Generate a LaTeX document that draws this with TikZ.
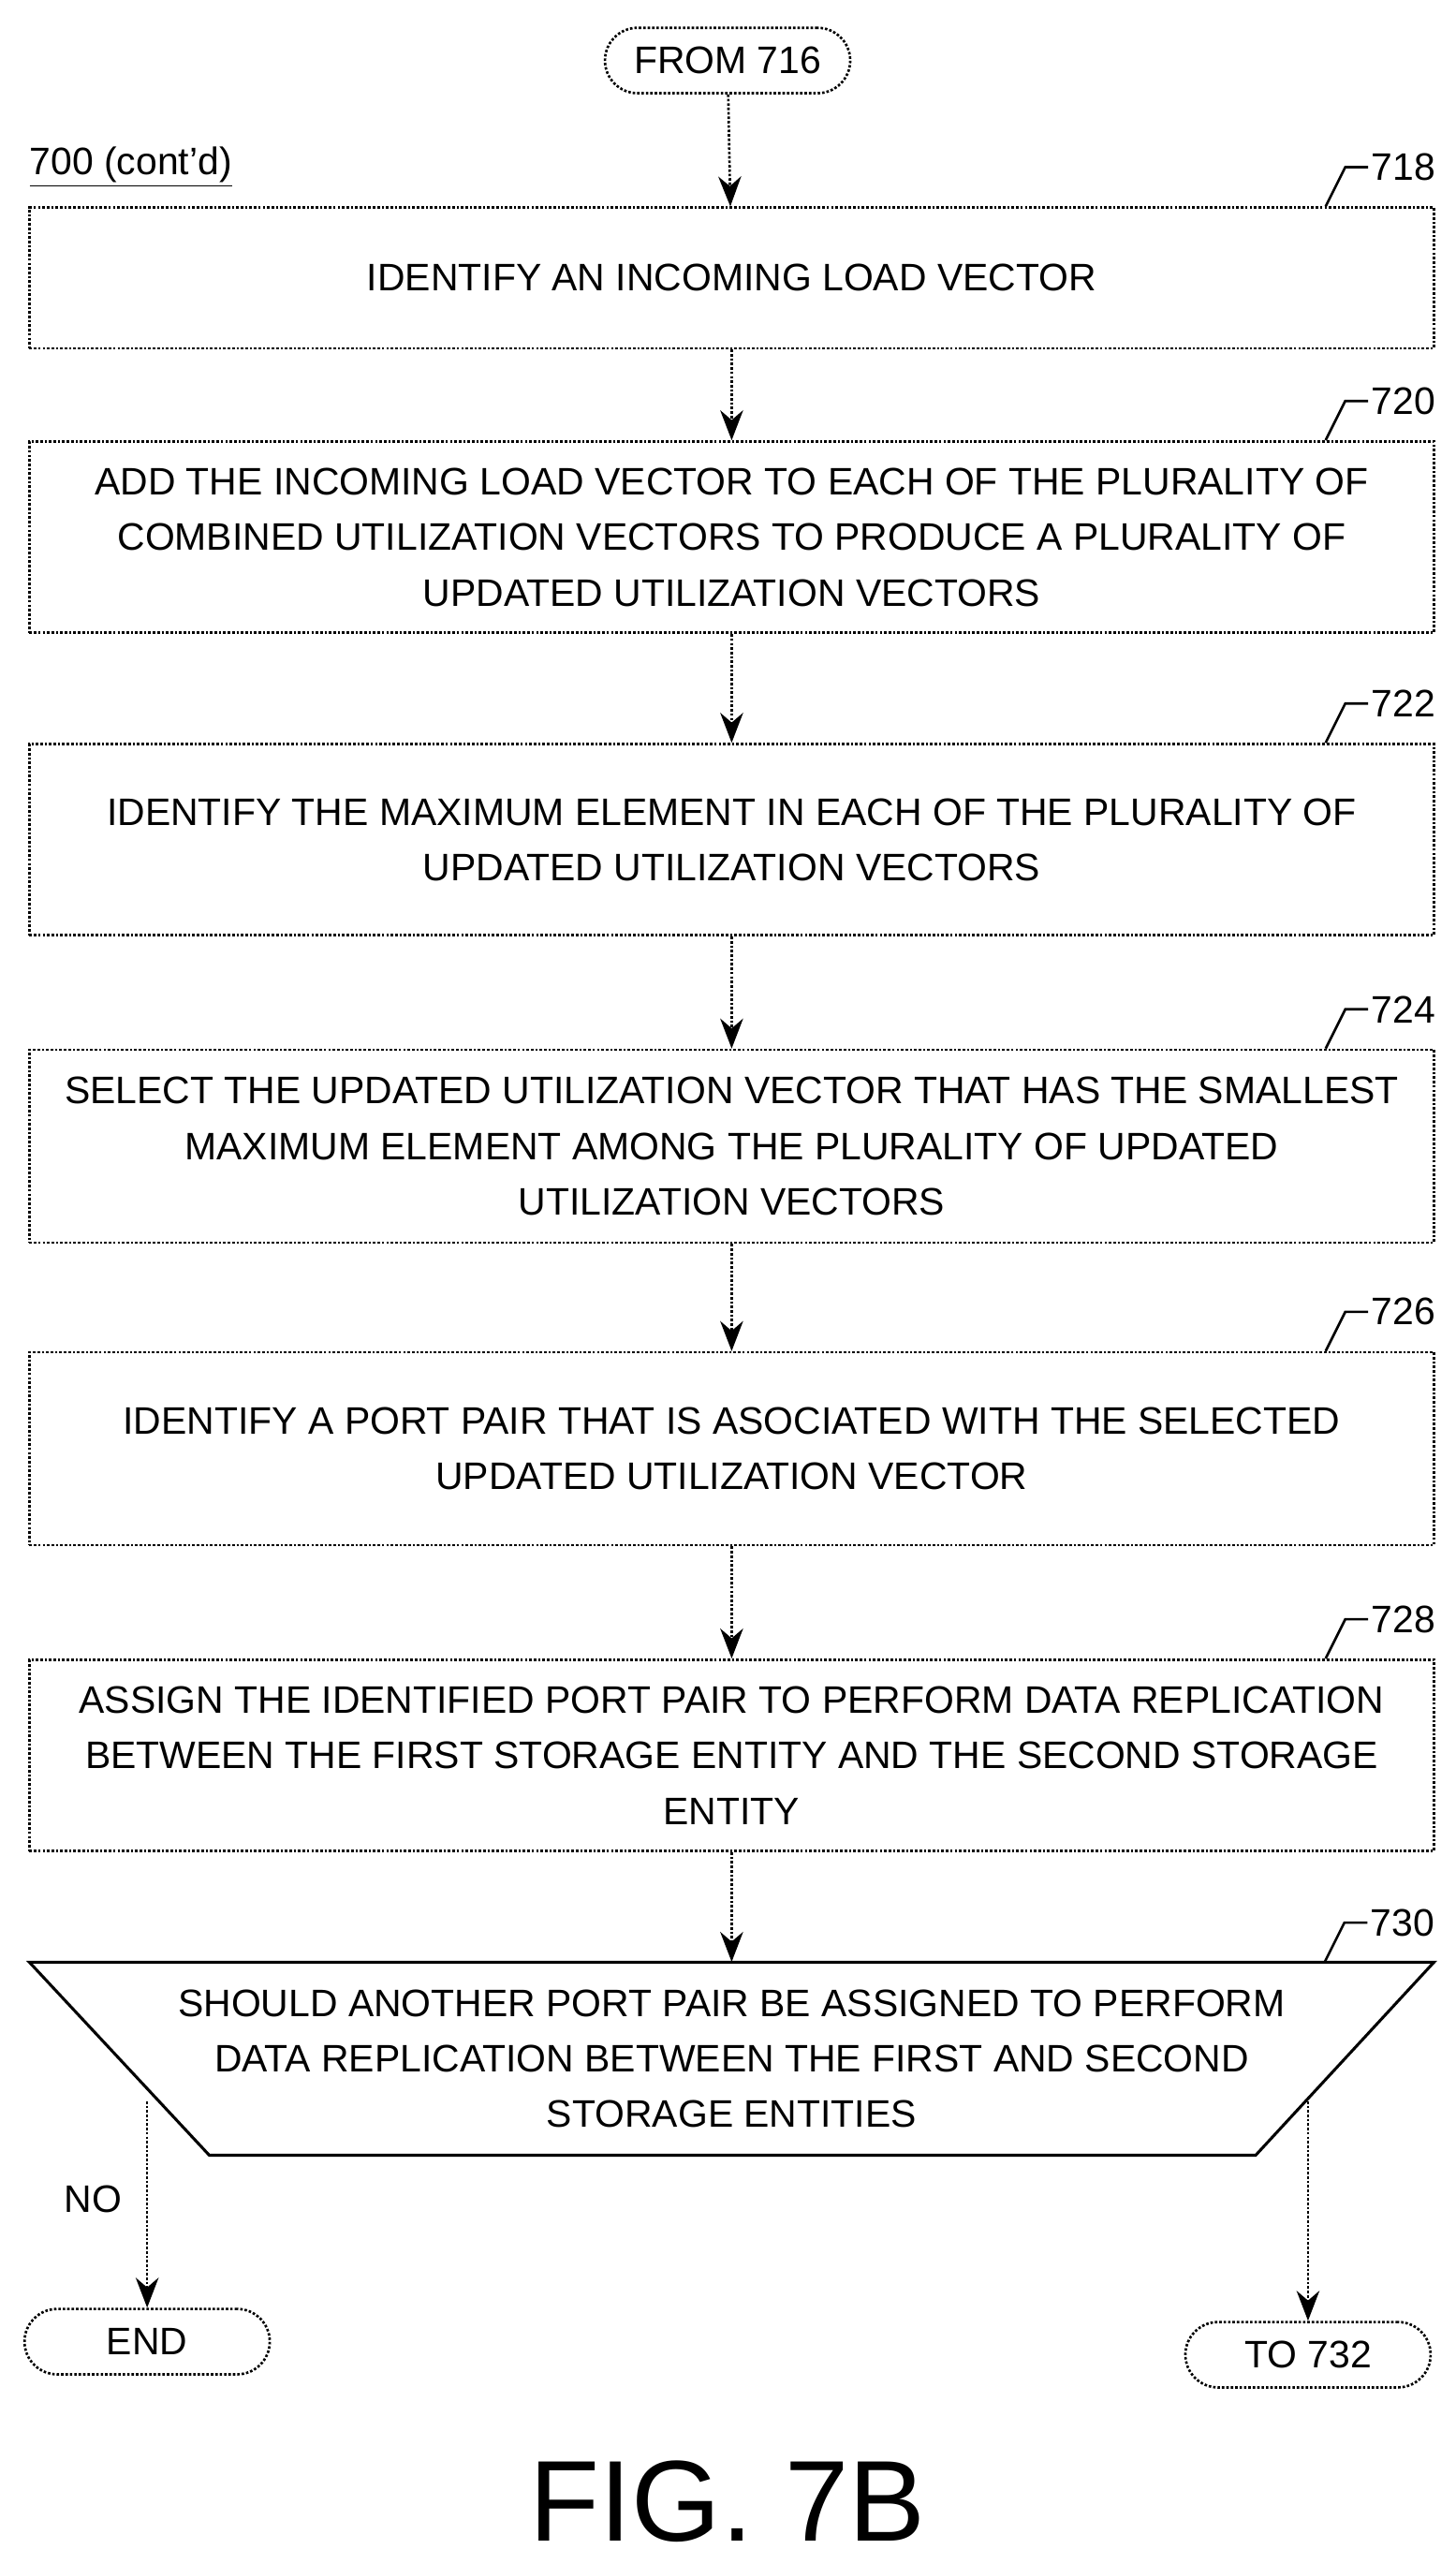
\documentclass[tikz,border=0pt]{standalone}
\usepackage{fontspec}
\setmainfont{Liberation Sans}
\usetikzlibrary{arrows.meta,shapes.geometric}
\tikzstyle{stepbox}=[draw=black, densely dotted, line width=1.3pt, minimum width=25.77cm, align=center, font=\fontsize{20}{29}\selectfont]
\tikzstyle{terminal}=[draw=black, densely dotted, line width=1.3pt, rounded corners=0.6cm, minimum width=4.5cm, minimum height=1.2cm, font=\fontsize{20}{24}\selectfont]
\tikzstyle{flow}=[draw=black, densely dotted, line width=1.3pt, -{Stealth[length=0.55cm,width=0.42cm]}]
\tikzstyle{tag}=[font=\fontsize{20}{24}\selectfont, anchor=west, inner sep=1pt]
\newcommand{\steplabel}[2]{%
  \draw[line width=1.3pt] (#1.north east) ++(-67,0) -- ++(12,-24) -- ++(14,0) node[tag] {#2};}

\begin{document}
\begin{tikzpicture}[x=0.03cm, y=-0.03cm]
    \useasboundingbox (0,0) rectangle (890,1568);

    \node (start) at (445,37) [terminal] {FROM 716};
    \node at (80,102) [font=\fontsize{20}{24}\selectfont] {\underline{700 (cont'd)}};

    \node (s718) at (447.5,170) [stepbox, minimum height=2.58cm] {IDENTIFY AN INCOMING LOAD VECTOR};
    \node (s720) at (447.5,328.5) [stepbox, minimum height=3.51cm] {ADD THE INCOMING LOAD VECTOR TO EACH OF THE PLURALITY OF\\COMBINED UTILIZATION VECTORS TO PRODUCE A PLURALITY OF\\UPDATED UTILIZATION VECTORS};
    \node (s722) at (447.5,513.5) [stepbox, minimum height=3.51cm] {IDENTIFY THE MAXIMUM ELEMENT IN EACH OF THE PLURALITY OF\\UPDATED UTILIZATION VECTORS};
    \node (s724) at (447.5,701) [stepbox, minimum height=3.54cm] {SELECT THE UPDATED UTILIZATION VECTOR THAT HAS THE SMALLEST\\MAXIMUM ELEMENT AMONG THE PLURALITY OF UPDATED\\UTILIZATION VECTORS};
    \node (s726) at (447.5,886) [stepbox, minimum height=3.54cm] {IDENTIFY A PORT PAIR THAT IS ASOCIATED WITH THE SELECTED\\UPDATED UTILIZATION VECTOR};
    \node (s728) at (447.5,1073.5) [stepbox, minimum height=3.51cm] {ASSIGN THE IDENTIFIED PORT PAIR TO PERFORM DATA REPLICATION\\BETWEEN THE FIRST STORAGE ENTITY AND THE SECOND STORAGE\\ENTITY};

    % decision
    \draw[line width=1.5pt] (18,1200) -- (877,1200) -- (768,1318) -- (128,1318) -- cycle;
    \node (s730) at (447.5,1259) [align=center, font=\fontsize{20}{29}\selectfont, minimum width=25.77cm, minimum height=3.54cm] {SHOULD ANOTHER PORT PAIR BE ASSIGNED TO PERFORM\\DATA REPLICATION BETWEEN THE FIRST AND SECOND\\STORAGE ENTITIES};
    \coordinate (noout) at (90,1285);
    \coordinate (yesout) at (800,1285);

    \node (finish) at (90,1432) [terminal] {END};
    \node (next) at (800,1440) [terminal] {TO 732};

    \steplabel{s718}{718}
    \steplabel{s720}{720}
    \steplabel{s722}{722}
    \steplabel{s724}{724}
    \steplabel{s726}{726}
    \steplabel{s728}{728}
    \steplabel{s730}{730}

    \draw[flow] (start) -- (s718);
    \draw[flow] (s718) -- (s720);
    \draw[flow] (s720) -- (s722);
    \draw[flow] (s722) -- (s724);
    \draw[flow] (s724) -- (s726);
    \draw[flow] (s726) -- (s728);
    \draw[flow] (s728) -- (s730.north);
    \draw[flow] (noout) -- (finish);
    \draw[flow] (yesout) -- (next);
    \node at (57,1345) [font=\fontsize{20}{24}\selectfont] {NO};

    \node at (445,1530) [font=\fontsize{60}{70}\selectfont] {FIG. 7B};
\end{tikzpicture}
\end{document}
